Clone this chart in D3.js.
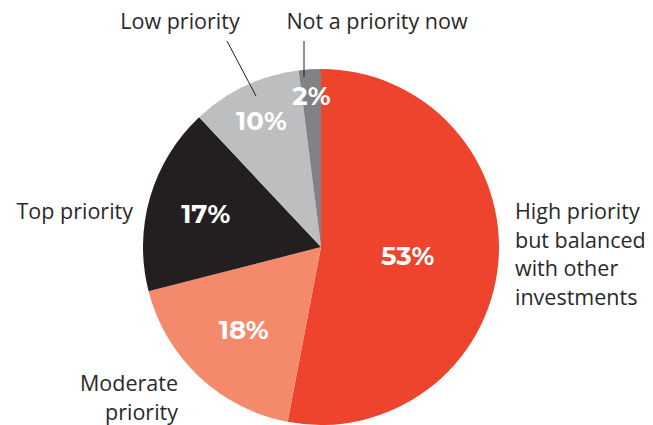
<!DOCTYPE html>
<html>
<head>
<meta charset="utf-8">
<script src="https://cdn.jsdelivr.net/npm/d3@7"></script>
<style>
  body { margin: 0; background: #fff; }
  text { font-family: "Open Sans", "DejaVu Sans", sans-serif; }
</style>
</head>
<body>
<script>
// Data
var categories = ["High priority but balanced with other investments", "Moderate priority", "Top priority", "Low priority", "Not a priority now"];
var shares = [53, 18, 17, 10, 2];
var sliceColors = ["#ee432d", "#f48a6b", "#231f20", "#bcbec0", "#808285"];

var svgWidth = 653, svgHeight = 425;
var cx = 321, cy = 247, radius = 178;

var svg = d3.select("body").append("svg")
  .attr("width", svgWidth)
  .attr("height", svgHeight);

var g = svg.append("g").attr("transform", `translate(${cx}, ${cy})`);

var pie = d3.pie().sort(null).value(d => d);
var arcs = pie(shares);
var arc = d3.arc().innerRadius(0).outerRadius(radius);

g.selectAll("path.slice")
  .data(arcs)
  .enter().append("path")
  .attr("class", "slice")
  .attr("d", arc)
  .attr("fill", (d, i) => sliceColors[i]);

// percentage labels, placed at different distances from centre
var labelR = [87, 113, 120, 140, 152];
g.selectAll("text.pct")
  .data(arcs)
  .enter().append("text")
  .attr("class", "pct")
  .attr("x", (d, i) => labelR[i] * Math.sin((d.startAngle + d.endAngle) / 2))
  .attr("y", (d, i) => -labelR[i] * Math.cos((d.startAngle + d.endAngle) / 2))
  .attr("dy", "0.36em")
  .attr("text-anchor", "middle")
  .style("font-family", "Montserrat, 'DejaVu Sans', sans-serif")
  .style("font-weight", "bold")
  .style("font-size", "26px")
  .attr("fill", "#fff")
  .text((d, i) => shares[i] + "%");

// category labels
var labelGroup = svg.append("g")
  .style("font-size", "21.5px")
  .attr("fill", "#2b2829");

function multiline(x, y, lines, anchor) {
  var t = labelGroup.append("text").attr("text-anchor", anchor);
  lines.forEach(function(l, k) {
    t.append("tspan").attr("x", x).attr("y", y + k * 28.5).text(l);
  });
}

multiline(515, 219, ["High priority", "but balanced", "with other", "investments"], "start");
multiline(178, 391, ["Moderate", "priority"], "end");
multiline(133, 219, [categories[2]], "end");
multiline(180, 29, [categories[3]], "middle");
multiline(377, 29, [categories[4]], "middle");

// leader lines
svg.append("line")
  .attr("x1", 227).attr("y1", 41).attr("x2", 256).attr("y2", 96)
  .attr("stroke", "#231f20").attr("stroke-width", 1);
svg.append("line")
  .attr("x1", 304).attr("y1", 41).attr("x2", 304).attr("y2", 77)
  .attr("stroke", "#231f20").attr("stroke-width", 1);
</script>
</body>
</html>
